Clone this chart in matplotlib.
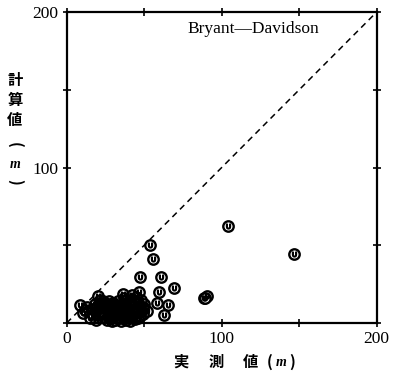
import matplotlib
matplotlib.use("Agg")
import matplotlib.pyplot as plt

# measured (x) vs calculated (y), in m
outlier_x = [103.9, 146.9, 53.8, 55.5, 47.0, 60.7, 69.2, 59.8, 88.6, 90.3, 89.4, 58.5, 65.6, 63.0]
outlier_y = [62.2, 44.6, 50.4, 41.4, 29.4, 29.4, 22.2, 20.1, 16.3, 17.4, 16.0, 13.0, 11.7, 5.3]

cluster_x = [8.6, 11.8, 10.8, 13.0, 15.1, 16.0, 18.0, 20.4, 21.5, 23.7, 22.0, 24.0, 25.0, 26.0,
             27.0, 28.0, 29.0, 30.0, 31.0, 32.0, 33.0, 34.0, 35.0, 36.1, 36.6, 37.0, 38.0, 39.0,
             40.0, 41.9, 42.0, 43.0, 44.1, 45.0, 46.0, 46.9, 47.3, 48.0, 49.0, 50.0, 51.6, 20.0,
             19.0, 24.0, 27.0, 30.0, 33.0, 34.0, 38.0, 41.0, 44.0, 47.0, 29.0, 35.0, 41.0, 26.0,
             22.0, 17.0, 39.0, 43.0, 37.0, 45.0, 48.0, 25.0, 28.0, 31.0, 32.0, 36.0, 40.0, 42.0,
             23.0, 27.0, 30.0, 33.0, 35.0, 38.0, 44.0, 46.0, 49.0, 21.0]
cluster_y = [11.6, 8.4, 6.4, 10.5, 3.2, 9.0, 12.0, 17.6, 15.0, 14.0, 8.0, 4.0, 11.0, 2.0,
             7.0, 12.0, 5.0, 9.0, 2.0, 11.0, 6.0, 3.0, 10.0, 18.7, 5.4, 12.0, 2.0, 8.0,
             14.0, 18.2, 4.0, 10.0, 2.6, 13.0, 7.0, 19.7, 4.3, 15.0, 10.0, 12.0, 7.5, 5.0,
             2.0, 13.0, 14.0, 13.0, 14.0, 8.0, 15.0, 11.0, 7.0, 11.0, 1.5, 1.0, 1.5, 9.0,
             11.0, 6.0, 4.0, 15.0, 16.0, 17.0, 8.0, 6.0, 9.0, 5.0, 8.0, 7.0, 6.0, 12.0,
             10.0, 3.0, 6.0, 10.0, 5.0, 11.0, 9.0, 3.0, 6.0, 12.0]

ticks = [0, 50, 100, 150, 200]
xtick_labels = ["0", "", "100", "", "200"]
ytick_labels = ["", "", "100", "", "200"]
title_text = "Bryant\u2014Davidson"

fig = plt.figure(figsize=(3.94, 3.74), dpi=100)
ax = fig.add_axes([66.7 / 394, 51 / 374, 310 / 394, 311 / 374])

ax.plot(outlier_x, outlier_y, linestyle="none", marker="o", ms=7.5, mfc="white", mec="black",
        mew=1.7, zorder=3, clip_on=False)
ax.plot(cluster_x, cluster_y, linestyle="none", marker="o", ms=7.5, mfc="none", mec="black",
        mew=1.7, zorder=3, clip_on=False)
ax.plot(outlier_x, outlier_y, linestyle="none", marker="$\\cup$", ms=3.5, color="black",
        zorder=4, clip_on=False)
ax.plot(cluster_x, cluster_y, linestyle="none", marker="$\\cup$", ms=3.5, color="black",
        zorder=4, clip_on=False)

ax.plot([0, 200], [0, 200], linestyle=(0, (4, 3)), color="black", lw=1.1, zorder=2)

ax.set_xlim(0, 200)
ax.set_ylim(0, 200)
ax.set_xticks(ticks)
ax.set_yticks(ticks)
ax.set_xticklabels(xtick_labels)
ax.set_yticklabels(ytick_labels)
for s in ax.spines.values():
    s.set_linewidth(1.6)
ax.tick_params(direction="inout", length=6, width=1.2, top=True, right=True,
               labelsize=12.5, pad=3)
for lab in ax.get_xticklabels() + ax.get_yticklabels():
    lab.set_family("Liberation Serif")

ax.text(78, 189, title_text, fontsize=12.5, family="Liberation Serif", va="center", ha="left")

jp = ["Noto Sans CJK JP", "DejaVu Sans"]
ylab = [("計", 80, 0), ("算", 100, 0), ("値", 120, 0), ("(", 145, -90), ("m", 165, 0),
        (")", 182, -90)]
for ch, yy, rot in ylab:
    if ch == "m":
        fig.text(15 / 394, 1 - yy / 374, ch, fontsize=10, family="Liberation Serif",
                 style="italic", weight="bold", ha="center", va="center")
    else:
        fig.text(15 / 394, 1 - yy / 374, ch, fontsize=11, family=jp, weight="bold",
                 ha="center", va="center", rotation=rot)

xlab = [("実", 181), ("測", 216), ("値", 251), ("(", 270), ("m", 281), (")", 292)]
for ch, xx in xlab:
    if ch == "m":
        fig.text(xx / 394, 1 - 362 / 374, ch, fontsize=10, family="Liberation Serif",
                 style="italic", weight="bold", ha="center", va="center")
    else:
        fig.text(xx / 394, 1 - 362 / 374, ch, fontsize=11, family=jp, weight="bold",
                 ha="center", va="center")

fig.savefig("out.png", dpi=100)
